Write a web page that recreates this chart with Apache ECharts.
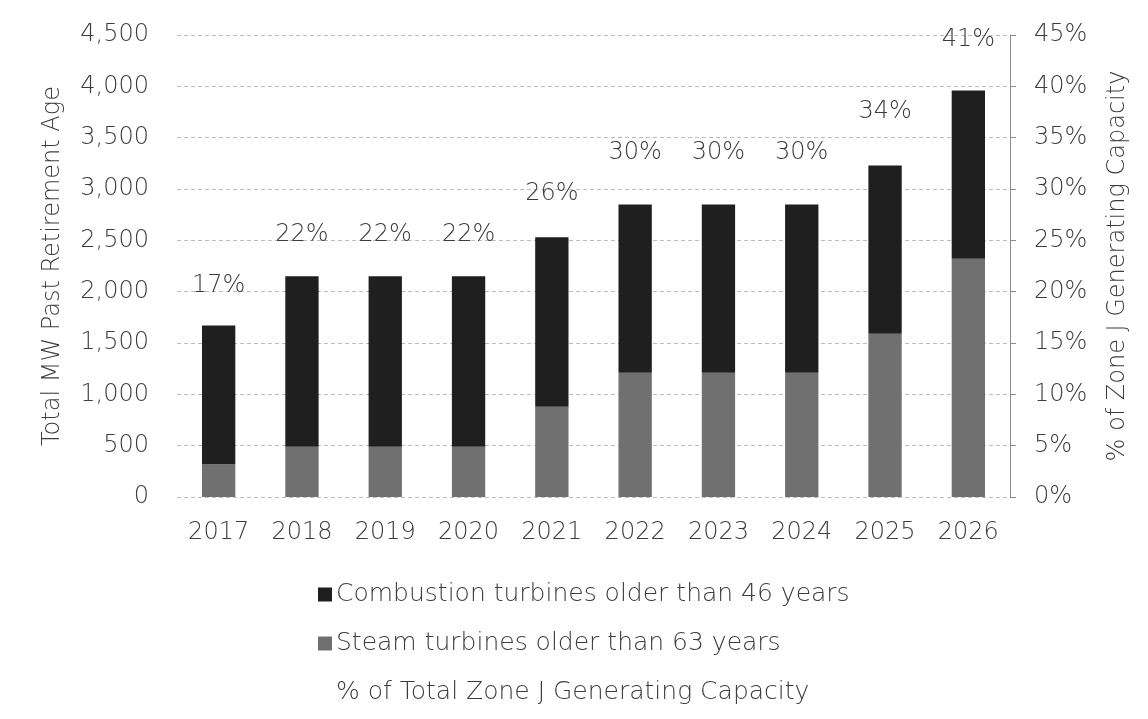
<!DOCTYPE html>
<html>
<head>
<meta charset="utf-8">
<title>Zone J MW past retirement age</title>
<script src="https://cdn.jsdelivr.net/npm/echarts@6/dist/echarts.min.js"></script>
<style>
  html, body { margin: 0; padding: 0; background: #fff; }
  #chart { width: 1148px; height: 719px; }
</style>
</head>
<body>
<div id="chart"></div>
<script>
// data
var years = ["2017", "2018", "2019", "2020", "2021", "2022", "2023", "2024", "2025", "2026"];
var steam = [320, 490, 490, 490, 880, 1210, 1210, 1210, 1590, 2320];
var combustion = [1350, 1660, 1660, 1660, 1650, 1640, 1640, 1640, 1640, 1640];
var pctZoneJ = [17, 22, 22, 22, 26, 30, 30, 30, 34, 41];

var mwTicks = [0, 4500, 500];   // min, max, step
var pctTicks = [0, 45, 5];

var nameCT = "Combustion turbines older than 46 years";
var nameST = "Steam turbines older than 63 years";
var namePct = "% of Total Zone J Generating Capacity";

var txt = "#3c3c3c";
var fnt = "DejaVu Sans";
var fw = 200;   // light look of the original
var fs = 24;

var myChart = echarts.init(document.getElementById("chart"));

var option = {
    backgroundColor: "#fff",
    animation: false,
    textStyle: { fontFamily: fnt, color: txt, fontWeight: fw },
    grid: { left: 177, right: 138, top: 35, bottom: 222 },
    legend: {
        orient: "vertical",
        left: 313,
        top: 577,
        itemWidth: 14,
        itemHeight: 14,
        itemGap: 24,
        textStyle: { fontFamily: fnt, fontSize: 25, fontWeight: fw, color: txt, padding: [0, 0, 0, -1] },
        data: [
            { name: nameCT, icon: "rect" },
            { name: nameST, icon: "rect" },
            { name: namePct, icon: "rect", itemStyle: { opacity: 0 } }
        ]
    },
    xAxis: {
        type: "category",
        data: years,
        axisLine: { show: false },
        axisTick: { show: false },
        axisLabel: { fontSize: fs, fontWeight: fw, color: txt, margin: 24, fontFamily: fnt }
    },
    yAxis: [
        {
            type: "value",
            min: mwTicks[0], max: mwTicks[1], interval: mwTicks[2],
            name: "Total MW Past Retirement Age",
            nameLocation: "middle",
            nameGap: 112,
            nameTextStyle: { fontSize: fs, fontWeight: fw, color: txt, fontFamily: fnt },
            axisLine: { show: false },
            axisTick: { show: false },
            axisLabel: {
                fontSize: fs, fontWeight: fw, color: txt, margin: 28, fontFamily: fnt,
                formatter: function (v) { return v.toLocaleString("en-US"); }
            },
            splitLine: { show: true, lineStyle: { color: "#bdbdbd", type: [4, 3], width: 1 } }
        },
        {
            type: "value",
            min: pctTicks[0], max: pctTicks[1], interval: pctTicks[2],
            name: "% of Zone J Generating Capacity",
            nameLocation: "middle",
            nameGap: 96,
            nameTextStyle: { fontSize: fs, fontWeight: fw, color: txt, fontFamily: fnt },
            axisLine: { show: true, lineStyle: { color: "#8a8a8a" } },
            axisTick: { show: true, length: 6, lineStyle: { color: "#8a8a8a" } },
            axisLabel: { fontSize: fs, fontWeight: fw, color: txt, margin: 24, fontFamily: fnt, formatter: "{value}%" },
            splitLine: { show: false }
        }
    ],
    series: [
        {
            name: nameST,
            type: "bar",
            stack: "mw",
            barWidth: "40%",
            data: steam,
            itemStyle: { color: "#707070" }
        },
        {
            name: nameCT,
            type: "bar",
            stack: "mw",
            barWidth: "40%",
            data: combustion,
            itemStyle: { color: "#1f1f1f" }
        },
        {
            name: namePct,
            type: "line",
            yAxisIndex: 1,
            data: pctZoneJ,
            symbol: "circle",
            symbolSize: 1,
            itemStyle: { color: "rgba(0,0,0,0)" },
            lineStyle: { opacity: 0 },
            label: {
                show: true,
                position: "top",
                distance: 24,
                fontSize: fs,
                fontWeight: fw,
                color: txt,
                fontFamily: fnt,
                formatter: "{c}%"
            },
            z: 5
        }
    ]
};

myChart.setOption(option);
</script>
</body>
</html>
